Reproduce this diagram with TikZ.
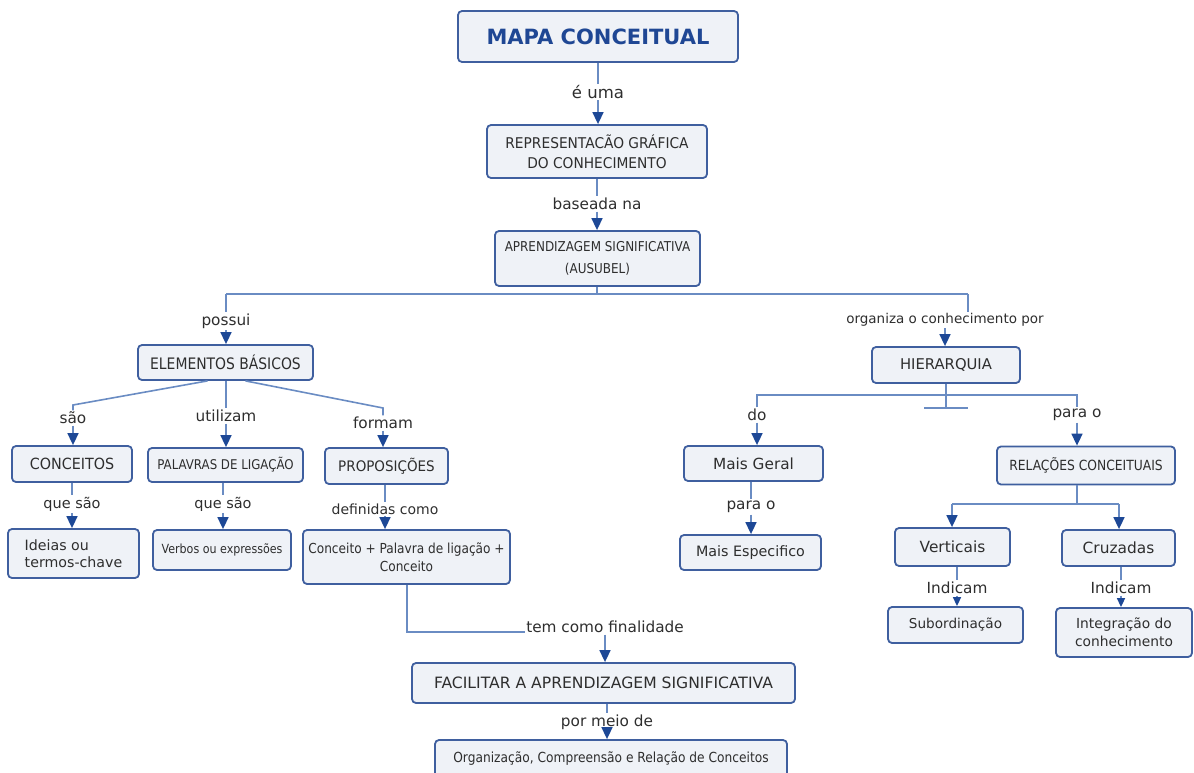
\documentclass[tikz,border=0pt]{standalone}
\usepackage{fontspec}
\setmainfont{DejaVu Sans}
\newfontfamily\condf[FakeStretch=0.88]{DejaVu Sans}
\newfontfamily\condb[FakeStretch=0.93]{DejaVu Sans}
\usetikzlibrary{arrows.meta,calc}
\definecolor{boxline}{HTML}{3F5F9F}
\definecolor{boxfill}{HTML}{EFF2F7}
\definecolor{conn}{HTML}{6A8CC3}
\definecolor{arrowc}{HTML}{1D4896}
\definecolor{txt}{HTML}{2E2E2E}
\definecolor{titlec}{HTML}{1F4794}
\begin{document}
\begin{tikzpicture}[x=1pt,y=-1pt,
 box/.style={draw=boxline, line width=1.8pt, fill=boxfill, rounded corners=4pt, inner sep=0pt, align=center, text=txt},
 lbl/.style={inner sep=1.5pt, text=txt, font=\fontsize{15.3}{17}\selectfont},
 link/.style={draw=conn, line width=1.6pt},
 arr/.style={link, -{Triangle[width=11pt,length=12pt,color=arrowc]}},
 sarr/.style={link, -{Triangle[width=8pt,length=9pt,color=arrowc]}},
]
\useasboundingbox (0,0) rectangle (1194,773);
\clip (0,0) rectangle (1194,773);

% boxes
\node[box, minimum width=280pt, minimum height=51pt, font=\bfseries\fontsize{21}{24}\selectfont, text=titlec] (mapa) at (598,36.5) {MAPA CONCEITUAL};
\node[box, minimum width=220pt, minimum height=53pt, font=\condb\fontsize{14.8}{20}\selectfont] (rep) at (597,151.5) {REPRESENTACÃO GRÁFICA\\DO CONHECIMENTO};
\node[box, minimum width=205pt, minimum height=55pt, font=\condf\fontsize{13.6}{22}\selectfont] (apr) at (597.5,258.5) {APRENDIZAGEM SIGNIFICATIVA\\(AUSUBEL)};
\node[box, minimum width=175pt, minimum height=35pt, font=\condf\fontsize{15.8}{18}\selectfont] (elem) at (225.5,362.5) {ELEMENTOS BÁSICOS};
\node[box, minimum width=120pt, minimum height=36pt, font=\condb\fontsize{15.4}{18}\selectfont] (conc) at (72,464) {CONCEITOS};
\node[box, minimum width=155pt, minimum height=34pt, font=\condf\fontsize{13.4}{16}\selectfont] (pal) at (225.5,465) {PALAVRAS DE LIGAÇÃO};
\node[box, minimum width=123pt, minimum height=36pt, font=\condb\fontsize{14.5}{17}\selectfont] (prop) at (386.5,466) {PROPOSIÇÕES};
\node[box, minimum width=131pt, minimum height=49pt, font=\fontsize{14.2}{17}\selectfont, align=left] (ide) at (73.5,553.5) {Ideias ou\\termos-chave};
\node[box, minimum width=138pt, minimum height=40pt, font=\condf\fontsize{12.6}{15}\selectfont] (verb) at (222,550) {Verbos ou expressões};
\node[box, minimum width=207pt, minimum height=54pt, font=\condf\fontsize{13.8}{18}\selectfont] (cpc) at (406.5,557) {Conceito + Palavra de ligação +\\Conceito};
\node[box, minimum width=383pt, minimum height=40pt, font=\fontsize{15.6}{18}\selectfont] (fac) at (603.5,683) {FACILITAR A APRENDIZAGEM SIGNIFICATIVA};
\node[box, minimum width=352pt, minimum height=38pt, font=\condf\fontsize{13.9}{16}\selectfont] (org) at (611,759) {Organização, Compreensão e Relação de Conceitos};
\node[box, minimum width=148pt, minimum height=36pt, font=\fontsize{14.8}{17}\selectfont] (hier) at (946,365) {HIERARQUIA};
\node[box, minimum width=139pt, minimum height=35pt, font=\fontsize{15.3}{18}\selectfont] (mg) at (753.5,463.5) {Mais Geral};
\node[box, minimum width=178pt, minimum height=38pt, font=\condf\fontsize{14}{17}\selectfont] (rel) at (1086,465.5) {RELAÇÕES CONCEITUAIS};
\node[box, minimum width=141pt, minimum height=35pt, font=\fontsize{14.3}{17}\selectfont] (me) at (750.5,552.5) {Mais Especifico};
\node[box, minimum width=115pt, minimum height=38pt, font=\fontsize{15.4}{18}\selectfont] (vert) at (952.5,547) {Verticais};
\node[box, minimum width=113pt, minimum height=36pt, font=\fontsize{15.4}{18}\selectfont] (cruz) at (1118.5,548) {Cruzadas};
\node[box, minimum width=135pt, minimum height=36pt, font=\fontsize{13.6}{16}\selectfont] (sub) at (955.5,625) {Subordinação};
\node[box, minimum width=136pt, minimum height=49pt, font=\fontsize{13.8}{18}\selectfont] (int) at (1124,632.5) {Integração do\\conhecimento};

% labels
\node[lbl, font=\fontsize{16.5}{18}\selectfont] (euma) at (598,92) {é uma};
\node[lbl] (baseada) at (597,204) {baseada na};
\node[lbl] (possui) at (226,321) {possui};
\node[lbl, font=\fontsize{13.5}{16}\selectfont] (organiza) at (945,320) {organiza o conhecimento por};
\node[lbl] (sao) at (73,418) {são};
\node[lbl] (utilizam) at (226,416) {utilizam};
\node[lbl] (formam) at (383,423) {formam};
\node[lbl, font=\fontsize{14.5}{17}\selectfont] (qs1) at (72,504) {que são};
\node[lbl, font=\fontsize{14.5}{17}\selectfont] (qs2) at (223,504) {que são};
\node[lbl, font=\fontsize{14}{16}\selectfont] (definidas) at (385,509) {definidas como};
\node[lbl] (temcomo) at (605,627) {tem como finalidade};
\node[lbl] (pormeio) at (607,722) {por meio de};
\node[lbl] (do) at (757,415) {do};
\node[lbl] (parao1) at (1077,415) {para o};
\node[lbl] (parao2) at (751,507) {para o};
\node[lbl] (ind1) at (957,588) {Indicam};
\node[lbl] (ind2) at (1121,588) {Indicam};

% top chain
\draw[link] (mapa.south -| euma) -- (euma.north);
\draw[arr] (euma.south) -- (euma.south |- rep.north);
\draw[link] (rep.south -| baseada) -- (baseada.north);
\draw[arr] (baseada.south) -- (baseada.south |- apr.north);

% main split
\coordinate (jA) at (597,294);
\coordinate (jL) at (226,294);
\coordinate (jR) at (968,294);
\draw[link] (apr.south -| jA) -- (jA);
\draw[link] (jL) -- (jR);
\draw[link] (jL) -- (jL |- possui.north);
\draw[link] (jR) -- (jR |- organiza.north);
\draw[arr] (possui.south) -- (possui.south |- elem.north);
\draw[arr] (organiza.south) -- (organiza.south |- hier.north);

% elementos branches
\coordinate (sbend) at (73,405);
\coordinate (fbend) at (383,408);
\draw[link] ($(elem.south)+(-18,0)$) -- (sbend) -- (sao.north);
\draw[link] (elem.south -| utilizam) -- (utilizam.north);
\draw[link] ($(elem.south)+(20,0)$) -- (fbend) -- (formam.north);
\draw[arr] (sao.south) -- (sao.south |- conc.north);
\draw[arr] (utilizam.south) -- (utilizam.south |- pal.north);
\draw[arr] (formam.south) -- (formam.south |- prop.north);
\draw[link] (conc.south -| qs1) -- (qs1.north);
\draw[arr] (qs1.south) -- (qs1.south |- ide.north);
\draw[link] (pal.south -| qs2) -- (qs2.north);
\draw[arr] (qs2.south) -- (qs2.south |- verb.north);
\draw[link] (prop.south -| definidas) -- (definidas.north);
\draw[arr] (definidas.south) -- (definidas.south |- cpc.north);

% finalidade
\coordinate (cb) at (407,632);
\draw[link] (cpc.south -| cb) -- (cb) -- (cb -| temcomo.west);
\draw[arr] (temcomo.south) -- (temcomo.south |- fac.north);
\draw[link] (fac.south -| pormeio) -- (pormeio.north);
\draw[arr] (pormeio.south) -- (pormeio.south |- org.north);

% hierarquia
\draw[link] (hier.south) -- ++(0,24) coordinate (tb);
\draw[link] ($(tb)+(-22,0)$) -- ($(tb)+(22,0)$);
\coordinate (hl) at (757,395);
\coordinate (hr) at (1077,395);
\draw[link] (do.north) -- (hl) -- (hr) -- (parao1.north);
\draw[arr] (do.south) -- (do.south |- mg.north);
\draw[arr] (parao1.south) -- (parao1.south |- rel.north);
\draw[link] (mg.south -| parao2) -- (parao2.north);
\draw[arr] (parao2.south) -- (parao2.south |- me.north);

% relacoes
\coordinate (rj) at (1077,504);
\coordinate (rvl) at (952,504);
\coordinate (rvr) at (1119,504);
\draw[link] (rel.south -| rj) -- (rj);
\draw[link] (rvl) -- (rvr);
\draw[arr] (rvl) -- (rvl |- vert.north);
\draw[arr] (rvr) -- (rvr |- cruz.north);
\draw[link] (vert.south -| ind1) -- (ind1.north);
\draw[sarr] (ind1.south) -- (ind1.south |- sub.north);
\draw[link] (cruz.south -| ind2) -- (ind2.north);
\draw[sarr] (ind2.south) -- (ind2.south |- int.north);
\end{tikzpicture}
\end{document}
